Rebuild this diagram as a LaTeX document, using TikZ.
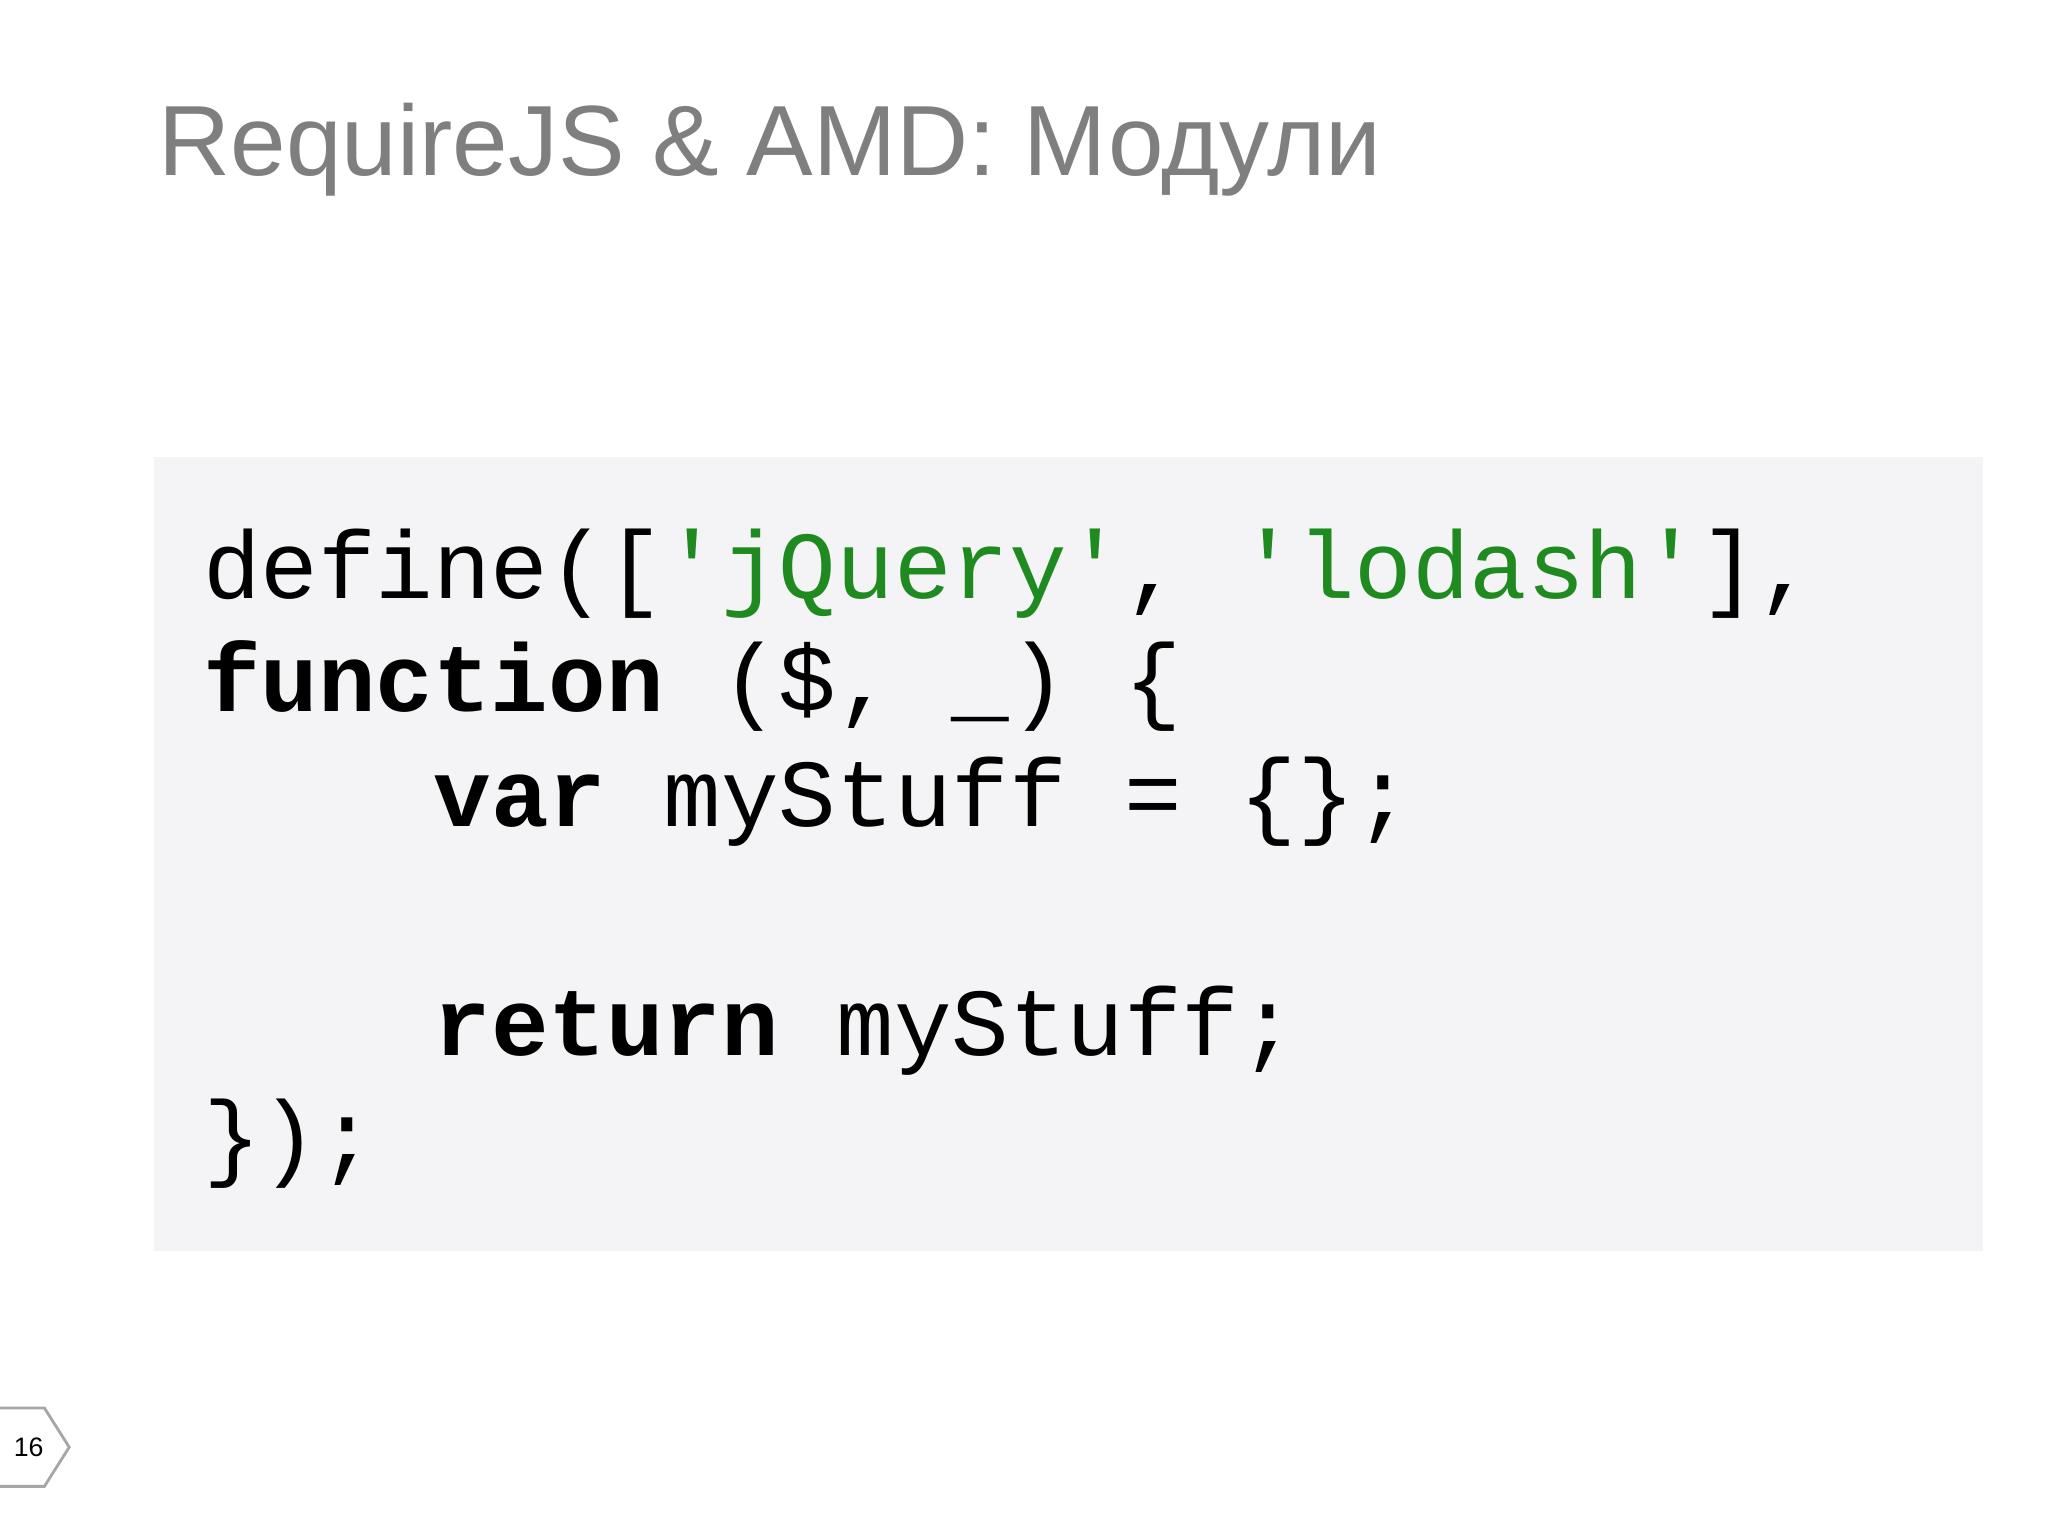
\documentclass[tikz,border=0pt]{standalone}
\usepackage{fontspec}
\setmainfont{Liberation Sans}
\newfontfamily\codefont{Liberation Mono}
\definecolor{titlegray}{HTML}{7F7F7F}
\definecolor{codebg}{HTML}{F4F4F6}
\definecolor{strgreen}{HTML}{1F8A1F}
\begin{document}
\begin{tikzpicture}[x=0.013061cm,y=-0.013061cm,
  codeline/.style={anchor=base west,inner sep=0pt,font=\codefont\fontsize{27.3}{31}\selectfont}]
\useasboundingbox (0,0) rectangle (1568,1176);
\fill[white] (0,0) rectangle (1568,1176);
\node[anchor=base west,inner sep=0pt,text=titlegray,font=\fontsize{28.4}{34}\selectfont] (title) at (121,134) {RequireJS \& AMD: Модули};
\fill[codebg] (118,350) rectangle (1518,958);
\node[codeline] (l1) at (155,458) {define([\textcolor{strgreen}{'jQuery'}, \textcolor{strgreen}{'lodash'}],};
\node[codeline] (l2) at (155,545) {\textbf{function} (\$, \_) \{};
\node[codeline] (l3) at (155,633) {\phantom{xxxx}\textbf{var} myStuff = \{\};};
\node[codeline] (l4) at (155,808) {\phantom{xxxx}\textbf{return} myStuff;};
\node[codeline] (l5) at (155,895) {\});};
\draw[gray!70,line width=0.8pt] (0,1078) -- (34,1078) -- (53,1108) -- (34,1138) -- (0,1138);
\node[font=\fontsize{7.6}{9}\selectfont] (pg) at (22,1108) {16};
\end{tikzpicture}
\end{document}
